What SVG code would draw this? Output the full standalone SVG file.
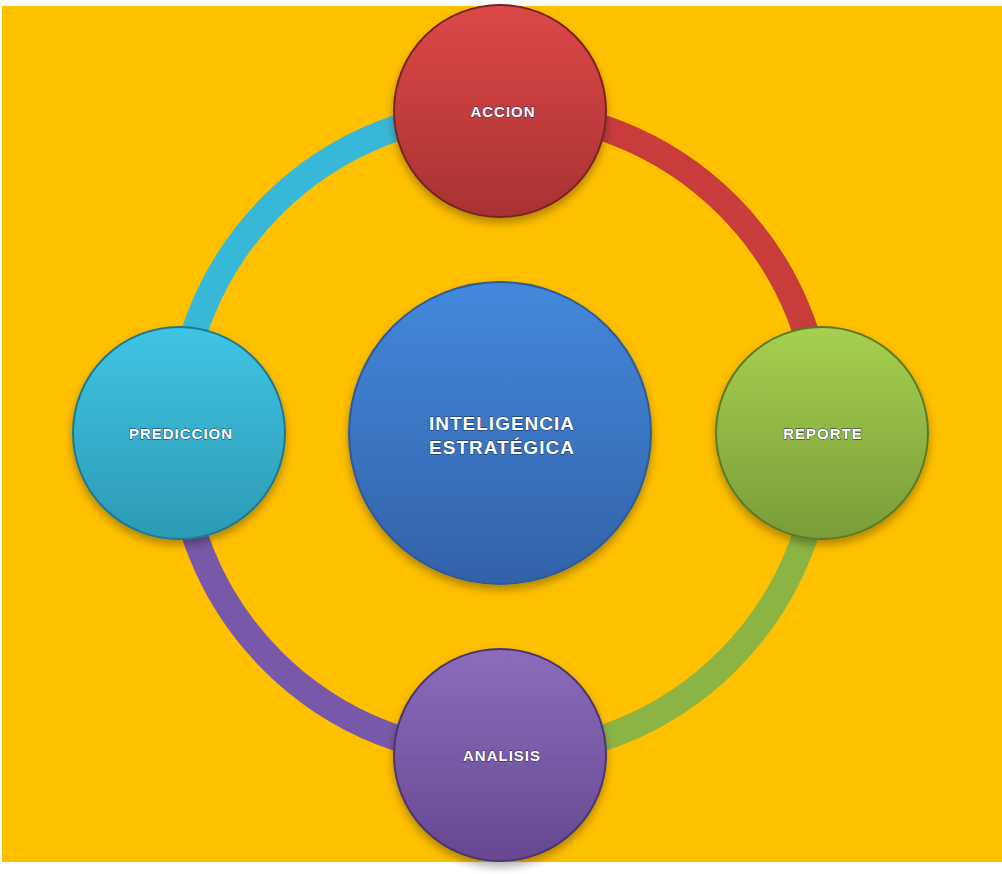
<svg xmlns="http://www.w3.org/2000/svg" width="1002" height="874" viewBox="0 0 1002 874">
<defs>
<linearGradient id="gr" x1="0" y1="0" x2="0" y2="1"><stop offset="0" stop-color="#dd4848"/><stop offset="1" stop-color="#a83232"/></linearGradient>
<linearGradient id="gg" x1="0" y1="0" x2="0" y2="1"><stop offset="0" stop-color="#a6d050"/><stop offset="1" stop-color="#7a9c38"/></linearGradient>
<linearGradient id="gp" x1="0" y1="0" x2="0" y2="1"><stop offset="0" stop-color="#8c6cbc"/><stop offset="1" stop-color="#664890"/></linearGradient>
<linearGradient id="gc" x1="0" y1="0" x2="0" y2="1"><stop offset="0" stop-color="#40c4e4"/><stop offset="1" stop-color="#2c9ab4"/></linearGradient>
<linearGradient id="gb" x1="0" y1="0" x2="0" y2="1"><stop offset="0" stop-color="#4488dc"/><stop offset="1" stop-color="#3262a8"/></linearGradient>
<filter id="sh" x="-20%" y="-20%" width="140%" height="150%"><feDropShadow dx="0" dy="5" stdDeviation="4" flood-color="#000" flood-opacity="0.3"/></filter>
</defs>
<style>
.arc{fill:none;stroke-width:26}
.n{stroke-width:2;filter:url(#sh)}
.t{font-family:"Liberation Sans",Arial,sans-serif;font-weight:bold;fill:#fff;stroke:#1a2a4a;stroke-width:0.8;paint-order:stroke;text-anchor:middle;letter-spacing:1px}
</style>
<rect x="0" y="0" width="1002" height="874" fill="#fff"/>
<rect x="2" y="6" width="1000" height="856" fill="#ffc000"/>
<g id="connectors">
<path class="arc" stroke="#c83c3c" d="M500 111 A322 322 0 0 1 822 433"/>
<path class="arc" stroke="#8cb444" d="M822 433 A322 322 0 0 1 500 755"/>
<path class="arc" stroke="#7858a8" d="M500 755 A322 322 0 0 1 178 433"/>
<path class="arc" stroke="#38b8d8" d="M178 433 A322 322 0 0 1 500 111"/>
</g>
<g id="center"><circle class="n" cx="500" cy="433" r="151" fill="url(#gb)" stroke="#2e5a98"/>
<text class="t" x="502" y="430" font-size="19">INTELIGENCIA</text><text class="t" x="502" y="454" font-size="19">ESTRATÉGICA</text></g>
<g id="accion"><circle class="n" cx="500" cy="111" r="106" fill="url(#gr)" stroke="#7a2424"/><text class="t" x="503" y="117" font-size="15">ACCION</text></g>
<g id="reporte"><circle class="n" cx="822" cy="433" r="106" fill="url(#gg)" stroke="#5c7a28"/><text class="t" x="823" y="439" font-size="15">REPORTE</text></g>
<g id="analisis"><circle class="n" cx="500" cy="755" r="106" fill="url(#gp)" stroke="#4c3470"/><text class="t" x="502" y="761" font-size="15">ANALISIS</text></g>
<g id="prediccion"><circle class="n" cx="179" cy="433" r="106" fill="url(#gc)" stroke="#1f7890"/><text class="t" x="181" y="439" font-size="15">PREDICCION</text></g>
</svg>
